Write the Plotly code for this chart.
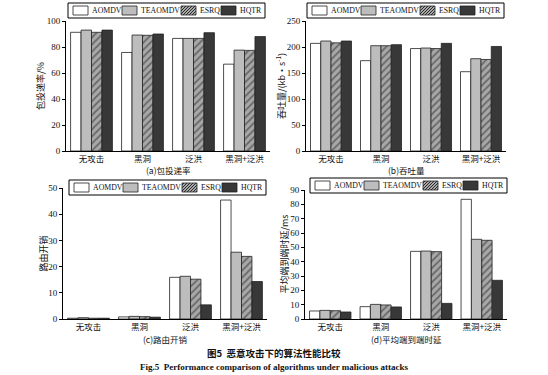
import plotly.graph_objects as go

W, H = 548, 375

categories = ["无攻击", "黑洞", "泛洪", "黑洞+泛洪"]
series = ["AOMDV", "TEAOMDV", "ESRQ", "HQTR"]

# (a) packet delivery ratio /%
pdr_aomdv = [91.3, 75.8, 86.6, 66.8]
pdr_teaomdv = [93.0, 89.2, 86.6, 77.6]
pdr_esrq = [91.3, 89.0, 86.6, 77.4]
pdr_hqtr = [93.0, 90.0, 91.0, 88.0]

# (b) throughput /(kb/s)
thr_aomdv = [207.0, 173.7, 197.0, 152.5]
thr_teaomdv = [211.5, 202.5, 198.0, 177.5]
thr_esrq = [208.0, 202.5, 197.0, 176.0]
thr_hqtr = [211.5, 204.5, 207.0, 201.0]

# (c) routing overhead
ovh_aomdv = [0.3, 0.8, 15.9, 45.4]
ovh_teaomdv = [0.5, 1.0, 16.3, 25.5]
ovh_esrq = [0.3, 0.9, 15.2, 23.9]
ovh_hqtr = [0.3, 0.7, 5.4, 14.3]

# (d) average end-to-end delay /ms
dly_aomdv = [5.6, 8.6, 47.2, 83.5]
dly_teaomdv = [6.0, 10.2, 47.4, 55.6]
dly_esrq = [5.8, 9.8, 47.0, 54.9]
dly_hqtr = [4.9, 8.4, 10.9, 27.0]

FONT = "Liberation Serif, Noto Sans CJK SC, serif"
CJK = "Noto Sans CJK SC, Liberation Serif, serif"
EDGE = "#222222"
styles = [
    dict(color="#ffffff"),
    dict(color="#bdbdbd"),
    dict(color="#a8a8a8", pattern=dict(shape="/", fgcolor="#2a2a2a", bgcolor="#a8a8a8", size=5, solidity=0.35)),
    dict(color="#383838"),
]

def px_x(x):
    return x / W

def px_y(y):
    return 1 - y / H

panels = [
    dict(data=[pdr_aomdv, pdr_teaomdv, pdr_esrq, pdr_hqtr], box=(66, 270, 21, 151), rng=[0, 100], dtick=20,
         ytitle="包投递率/%", tx=40, sub="(a)包投递率", sub_y=170, leg=(68, 3)),
    dict(data=[thr_aomdv, thr_teaomdv, thr_esrq, thr_hqtr], box=(306, 506, 21, 151), rng=[0, 250], dtick=50,
         ytitle="吞吐量/(kb·s<sup>-1</sup>)", tx=281, sub="(b)吞吐量", sub_y=170, leg=(307, 3)),
    dict(data=[ovh_aomdv, ovh_teaomdv, ovh_esrq, ovh_hqtr], box=(63, 267, 188, 319), rng=[0, 50], dtick=10,
         ytitle="路由开销", tx=43, sub="(c)路由开销", sub_y=339, leg=(69, 180)),
    dict(data=[dly_aomdv, dly_teaomdv, dly_esrq, dly_hqtr], box=(305, 507, 190, 319), rng=[0, 90], dtick=10,
         ytitle="平均端到端时延/ms", tx=284, sub="(d)平均端到端时延", sub_y=339, leg=(310, 178)),
]

fig = go.Figure()
shapes = []
annotations = []

for i, p in enumerate(panels):
    n = "" if i == 0 else str(i + 1)
    xa, ya = "x" + n, "y" + n
    for s, name in enumerate(series):
        fig.add_trace(go.Bar(
            x=categories, y=p["data"][s], name=name, xaxis=xa, yaxis=ya,
            marker=dict(**styles[s], line=dict(color=EDGE, width=0.8)),
            showlegend=False,
        ))
    x0, x1, y0, y1 = p["box"]
    fig.layout["xaxis" + n] = dict(
        domain=[px_x(x0), px_x(x1)], anchor=ya, showline=True, linecolor="#000", linewidth=1,
        ticks="", showgrid=False, tickfont=dict(family=CJK, size=8.5, color="#111"),
        type="category", automargin=False,
    )
    fig.layout["yaxis" + n] = dict(
        domain=[px_y(y1), px_y(y0)], anchor=xa, range=p["rng"], dtick=p["dtick"],
        showline=True, linecolor="#000", linewidth=1, ticks="outside", ticklen=3,
        tickcolor="#000", showgrid=False, zeroline=False, automargin=False,
        tickfont=dict(family=FONT, size=9, color="#111"),
    )
    annotations.append(dict(
        text=p["ytitle"], x=px_x(p["tx"]), y=px_y((y0 + y1) / 2), xref="paper", yref="paper",
        showarrow=False, textangle=-90, xanchor="center", yanchor="middle",
        font=dict(family=CJK, size=9, color="#111"),
    ))
    annotations.append(dict(
        text=p["sub"], x=px_x((x0 + x1) / 2), y=px_y(p["sub_y"]), xref="paper", yref="paper",
        showarrow=False, font=dict(family=CJK, size=8.5, color="#111"), xanchor="center", yanchor="middle",
    ))
    # legend box
    lx, ly = p["leg"]
    lw, lh = 197, 15
    shapes.append(dict(type="rect", xref="paper", yref="paper",
                       x0=px_x(lx), x1=px_x(lx + lw), y0=px_y(ly + lh), y1=px_y(ly),
                       line=dict(color="#000", width=1), fillcolor="rgba(0,0,0,0)"))
    offs = [5, 54, 113, 153]
    for s, name in enumerate(series):
        sx0 = lx + offs[s]
        sx1 = sx0 + 15
        sy0 = ly + 3
        sy1 = ly + 12
        fill = styles[s]["color"]
        shapes.append(dict(type="rect", xref="paper", yref="paper",
                           x0=px_x(sx0), x1=px_x(sx1), y0=px_y(sy1), y1=px_y(sy0),
                           line=dict(color=EDGE, width=0.8), fillcolor=fill))
        if s == 2:
            w, h = sx1 - sx0, sy1 - sy0
            for c in range(-int(h) + 2, int(w), 3):
                t0 = max(0, -c)
                t1 = min(h, w - c)
                if t1 <= t0:
                    continue
                shapes.append(dict(type="line", xref="paper", yref="paper",
                                   x0=px_x(sx0 + c + t0), y0=px_y(sy1 - t0),
                                   x1=px_x(sx0 + c + t1), y1=px_y(sy1 - t1),
                                   line=dict(color="#2a2a2a", width=1)))
        annotations.append(dict(
            text=name, x=px_x(sx1 + 1.5), y=px_y(ly + 7.5), xref="paper", yref="paper",
            showarrow=False, xanchor="left", yanchor="middle",
            font=dict(family=FONT, size=7.8, color="#111"),
        ))

annotations.append(dict(
    text="<b>图5  恶意攻击下的算法性能比较</b>", x=px_x(274), y=px_y(353), xref="paper", yref="paper",
    showarrow=False, xanchor="center", yanchor="middle", font=dict(family=CJK, size=9.5, color="#111"),
))
annotations.append(dict(
    text="<b>Fig.5  Performance comparison of algorithms under malicious attacks</b>",
    x=px_x(274), y=px_y(367), xref="paper", yref="paper",
    showarrow=False, xanchor="center", yanchor="middle", font=dict(family=FONT, size=9, color="#111"),
))

fig.update_layout(
    width=W, height=H, margin=dict(l=0, r=0, t=0, b=0, autoexpand=False),
    paper_bgcolor="#ffffff", plot_bgcolor="#ffffff",
    barmode="group", bargap=0.18, bargroupgap=0,
    showlegend=False, shapes=shapes, annotations=annotations,
    font=dict(family=FONT, size=9, color="#111"),
)

fig.write_html("out.html", config={"displayModeBar": False},
               post_script="document.body.style.margin='0px';")
